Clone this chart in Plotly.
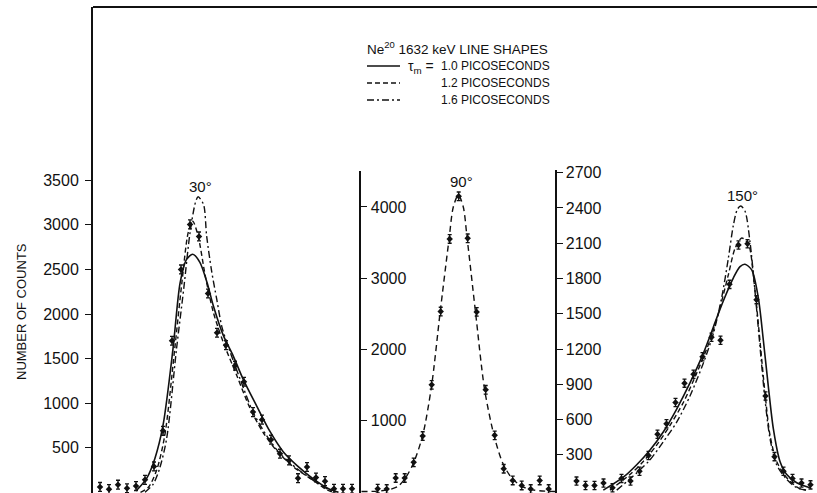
import plotly.graph_objects as go

# ---------------- data ----------------
# 30 degree panel: measured points (channel, counts)
ch30 = list(range(1, 30))
cnt30 = [60, 35, 85, 45, 70, 140, 290, 690, 1700, 2500, 3005, 2870, 2230, 1790, 1650,
         1420, 1240, 900, 815, 590, 433, 358, 158, 284, 166, 125, 40, 40, 40]
# 30 degree calculated line shapes
t10_30_x = [5.0, 6.2, 7.1, 8.0, 9.1, 9.9, 10.6, 11.3, 12.1, 12.9, 13.6, 14.7, 15.8, 16.9,
            18.4, 19.9, 21.4, 22.9, 24.7, 26.4, 27.5]
t10_30_y = [15, 160, 380, 750, 1600, 2350, 2610, 2670, 2580, 2350, 2090, 1760, 1530, 1270,
            970, 680, 450, 300, 150, 40, 0]
t12_30_x = [5.5, 6.4, 7.3, 8.2, 9.3, 10.1, 10.8, 11.3, 11.9, 12.7, 13.6, 14.7, 16.2, 17.7,
            19.1, 20.6, 22.5, 24.7, 26.0, 26.9]
t12_30_y = [0, 60, 250, 640, 1607, 2353, 2913, 3042, 2875, 2427, 2017, 1682, 1309, 936,
            675, 470, 284, 134, 41, 0]
t16_30_x = [6.0, 6.9, 7.6, 8.4, 9.5, 10.3, 11.0, 11.6, 11.9, 12.5, 12.85, 13.4, 13.97,
            14.56, 15.44, 16.56, 18.0, 19.5, 21.0, 22.9, 24.7, 26.2, 27.1]
t16_30_y = [0, 90, 260, 600, 1607, 2280, 2910, 3250, 3315, 3230, 2875, 2483, 2166,
            1850, 1580, 1272, 900, 638, 433, 265, 134, 41, 0]

# 90 degree panel
ch90 = list(range(1, 21))
cnt90 = [40, 35, 190, 190, 410, 780, 1500, 2530, 3550, 4150, 3560, 2525, 1430, 790,
         320, 155, 85, 35, 155, 35]
calc90_x = [-0.8, 1.0, 2.37, 3.22, 4.03, 4.98, 6.0, 6.98, 7.92, 8.92, 9.4, 9.96, 10.51,
            10.92, 11.87, 12.87, 13.92, 14.89, 15.89, 16.92, 17.92, 19.59, 20.9]
calc90_y = [0, 5, 30, 70, 180, 400, 790, 1480, 2500, 3540, 4000, 4170, 4000,
            3580, 2520, 1440, 790, 400, 190, 80, 30, 5, 0]

# 150 degree panel
ch150 = list(range(1, 28))
cnt150 = [77, 40, 40, 60, 20, 100, 77, 160, 295, 475, 565, 745, 910, 985, 1135, 1300,
          1275, 1750, 2085, 2095, 1620, 800, 285, 160, 100, 60, 45]
t10_150_x = [3.98, 6.2, 7.69, 9.17, 10.64, 12.13, 13.61, 15.09, 16.2, 17.31, 18.42,
             19.17, 19.72, 20.47, 21.2, 21.76, 22.31, 22.87, 23.61, 24.36, 25.47, 26.94]
t10_150_y = [0, 110, 216, 342, 495, 690, 912, 1163, 1386, 1609, 1804,
             1901, 1921, 1873, 1637, 1275, 885, 523, 244, 133, 63, 20]
t12_150_x = [4.72, 6.94, 8.42, 9.91, 11.39, 12.87, 14.36, 15.83, 16.94, 17.87, 18.61,
             19.36, 20.09, 20.72, 21.31, 21.94, 22.5, 23.24, 24.36, 25.64, 26.5]
t12_150_y = [0, 133, 244, 383, 551, 745, 996, 1275, 1553, 1831, 2054,
             2144, 2096, 1776, 1330, 829, 467, 244, 105, 20, 0]
t16_150_x = [5.47, 7.69, 9.17, 10.64, 12.13, 13.61, 15.09, 16.2, 17.13, 17.87, 18.42,
             18.87, 19.24, 19.72, 20.28, 20.83, 21.39, 21.94, 22.5, 23.24, 24.36, 25.47, 26.5]
t16_150_y = [0, 147, 258, 411, 578, 801, 1079, 1330, 1637, 1971, 2249,
             2388, 2416, 2374, 2110, 1693, 1219, 774, 439, 216, 91, 20, 0]

ticks30 = [500, 1000, 1500, 2000, 2500, 3000, 3500]
ticks90 = [1000, 2000, 3000, 4000]
ticks150 = [300, 600, 900, 1200, 1500, 1800, 2100, 2400, 2700]

# ---------------- layout helpers ----------------
W, H = 817, 493
ML, MR, MT, MB = 93, 0, 7, 0
PW, PH = W - ML - MR, H - MT - MB


def px2x(px):
    return (px - ML) / PW


def py2y(py):
    return (H - MB - py) / PH


FONT = "Liberation Sans, Arial, sans-serif"
BLACK = "#111111"
DASH = "5px,3px"
DASHDOT = "7px,3px,2px,3px"

fig = go.Figure()


def add_points(x, y, xa, ya, err):
    fig.add_trace(go.Scatter(
        x=x, y=y, mode="markers", xaxis=xa, yaxis=ya,
        marker=dict(symbol="diamond", size=5, color=BLACK),
        error_y=dict(type="constant", value=err, color=BLACK, thickness=1.3, width=2),
        showlegend=False, hoverinfo="skip"))


def add_curve(x, y, xa, ya, dash, width=1.4):
    fig.add_trace(go.Scatter(
        x=x, y=y, mode="lines", xaxis=xa, yaxis=ya,
        line=dict(color=BLACK, width=width, dash=dash, shape="spline", smoothing=0.8),
        showlegend=False, hoverinfo="skip"))


# panel 1
add_curve(t10_30_x, t10_30_y, "x", "y", "solid", 1.6)
add_curve(t12_30_x, t12_30_y, "x", "y", DASH)
add_curve(t16_30_x, t16_30_y, "x", "y", DASHDOT)
add_points(ch30, cnt30, "x", "y", 50)
# panel 2
add_curve(calc90_x, calc90_y, "x2", "y2", "6px,4px")
add_points(ch90, cnt90, "x2", "y2", 60)
# panel 3
add_curve(t10_150_x, t10_150_y, "x3", "y3", "solid", 1.6)
add_curve(t12_150_x, t12_150_y, "x3", "y3", DASH)
add_curve(t16_150_x, t16_150_y, "x3", "y3", DASHDOT)
add_points(ch150, cnt150, "x3", "y3", 35)

# x mapping: channel -> pixel
x1_left, x2_left, x3_left = 93, 361, 557
sp = 9.0
xr1 = [1 + (x1_left - 100) / sp, 1 + (x2_left - 100) / sp]
xr2 = [1 + (x2_left - 377.7) / sp, 1 + (x3_left - 377.7) / sp]
xr3 = [1 + (x3_left - 576.5) / sp, 1 + (W - 576.5) / sp]

hidden_x = dict(showline=False, showticklabels=False, ticks="", showgrid=False,
                zeroline=False)


# y mapping: (zero pixel, px per count, top pixel)
def yrange(zero_px, scale, top_px):
    return [-(zero_px - (H - MB)) / scale, (zero_px - top_px) / scale]


tickfont = dict(family=FONT, size=16, color=BLACK)

fig.update_layout(
    width=W, height=H,
    margin=dict(l=ML, r=MR, t=MT, b=MB, pad=0),
    paper_bgcolor="white", plot_bgcolor="white",
    showlegend=False,
    xaxis=dict(domain=[0, px2x(x2_left)], range=xr1, **hidden_x),
    xaxis2=dict(domain=[px2x(x2_left), px2x(x3_left)], range=xr2, anchor="y2", **hidden_x),
    xaxis3=dict(domain=[px2x(x3_left), 1], range=xr3, anchor="y3", **hidden_x),
    yaxis=dict(domain=[0, 1], range=yrange(493.7, 0.0894, MT), anchor="x",
               showline=True, linewidth=2, linecolor=BLACK, showgrid=False, zeroline=False,
               ticks="outside", ticklen=6, tickwidth=1.3, tickcolor=BLACK,
               ticklabelstandoff=3,
               tickvals=ticks30, ticktext=[str(v) for v in ticks30], tickfont=tickfont),
    yaxis2=dict(domain=[0, py2y(170.7)], range=yrange(494.5, 0.0718, 170.7), anchor="x2",
                side="left", showline=True, linewidth=2, linecolor=BLACK, showgrid=False,
                zeroline=False, ticks="inside", ticklen=6, tickwidth=1.3, tickcolor=BLACK,
                ticklabelposition="inside", ticklabeloverflow="allow", ticklabelstandoff=4,
                tickvals=ticks90, ticktext=[str(v) for v in ticks90], tickfont=tickfont),
    yaxis3=dict(domain=[0, py2y(170)], range=yrange(495.9, 0.1197, 170), anchor="x3",
                side="left", showline=True, linewidth=2, linecolor=BLACK, showgrid=False,
                zeroline=False, ticks="inside", ticklen=6, tickwidth=1.3, tickcolor=BLACK,
                ticklabelposition="inside", ticklabeloverflow="allow", ticklabelstandoff=3,
                tickvals=ticks150, ticktext=[str(v) for v in ticks150], tickfont=tickfont),
)

# outer frame top line
fig.add_shape(type="line", xref="paper", yref="paper", x0=0, x1=1, y0=1, y1=1,
              line=dict(color=BLACK, width=2))

# legend samples
for py, dash in [(66, "solid"), (83, DASH), (100, DASHDOT)]:
    fig.add_shape(type="line", xref="paper", yref="paper",
                  x0=px2x(367), x1=px2x(400), y0=py2y(py), y1=py2y(py),
                  line=dict(color=BLACK, width=1.3, dash=dash))


def ann(text, px, py, size, xanchor="center", angle=0):
    fig.add_annotation(text=text, xref="paper", yref="paper", x=px2x(px), y=py2y(py),
                       xanchor=xanchor, yanchor="middle", showarrow=False, textangle=angle,
                       font=dict(family=FONT, size=size, color=BLACK))


ann("Ne<sup>20</sup> 1632 keV LINE SHAPES", 365, 48, 13.5, "left")
ann("τ<sub>m</sub> =", 436, 67, 14, "right")
ann("1.0 PICOSECONDS", 439, 66, 12, "left")
ann("1.2 PICOSECONDS", 439, 83, 12, "left")
ann("1.6 PICOSECONDS", 439, 100, 12, "left")

ann("30°", 200, 186, 15)
ann("90°", 461, 181, 15)
ann("150°", 742, 195, 15)

ann("NUMBER OF COUNTS", 21, 312, 13, "center", -90)

fig.write_html("out.html")
